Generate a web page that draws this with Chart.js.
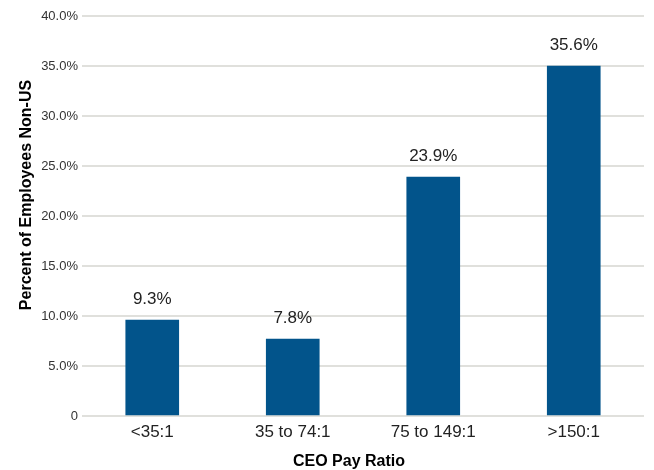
<!DOCTYPE html>
<html>
<head>
<meta charset="utf-8">
<script src="https://cdn.jsdelivr.net/npm/chart.js@4"></script>
<style>
  html, body { margin: 0; padding: 0; background: #fff; }
  #wrap { width: 654px; height: 470px; }
</style>
</head>
<body>
<div id="wrap"><canvas id="graficoRatio"></canvas></div>
<script>
// Dados
const categorias = ['<35:1', '35 to 74:1', '75 to 149:1', '>150:1'];
const alturas = [9.6, 7.7, 23.9, 35.0];
const rotulos = ['9.3%', '7.8%', '23.9%', '35.6%'];
const ticksY = [0, 5, 10, 15, 20, 25, 30, 35, 40];

const fonte = "'Liberation Sans', Arial, sans-serif";

// rótulos em cima das barras
const rotulosBarras = {
  id: 'rotulosBarras',
  afterDatasetsDraw(chart) {
    const c = chart.ctx;
    const meta = chart.getDatasetMeta(0);
    c.save();
    c.font = '17px ' + fonte;
    c.fillStyle = '#222';
    c.textAlign = 'center';
    c.textBaseline = 'alphabetic';
    meta.data.forEach((bar, i) => {
      c.fillText(rotulos[i], bar.x, bar.y - 16);
    });
    c.restore();
  }
};

// títulos dos eixos
const titulosEixos = {
  id: 'titulosEixos',
  afterDraw(chart) {
    const c = chart.ctx;
    c.save();
    c.font = 'bold 16px ' + fonte;
    c.fillStyle = '#000';
    c.textAlign = 'center';
    c.textBaseline = 'middle';
    c.fillText('CEO Pay Ratio', 349, 462);
    c.translate(27, 195);
    c.rotate(-Math.PI / 2);
    c.fillText('Percent of Employees Non-US', 0, 0);
    c.restore();
  }
};

const ctx = document.getElementById('graficoRatio').getContext('2d');
const grafico = new Chart(ctx, {
  type: 'bar',
  data: {
    labels: categorias,
    datasets: [{
      data: alturas,
      backgroundColor: '#02548b',
      barThickness: 53
    }]
  },
  options: {
    responsive: true,
    maintainAspectRatio: false,
    animation: false,
    layout: {
      padding: { top: 16, right: 10, left: 0, bottom: 0 }
    },
    scales: {
      x: {
        grid: { display: false, drawTicks: false },
        border: { display: false },
        ticks: {
          padding: 6,
          color: '#222',
          font: { family: fonte, size: 17 }
        },
        afterFit: s => { s.height = 54; }
      },
      y: {
        min: 0,
        max: 40,
        afterBuildTicks: s => { s.ticks = ticksY.map(v => ({ value: v })); },
        grid: { color: '#e0e0dc', lineWidth: 2, drawTicks: false },
        border: { display: false },
        ticks: {
          padding: 4,
          color: '#333',
          font: { family: fonte, size: 13 },
          callback: v => v === 0 ? '0' : v.toFixed(1) + '%'
        },
        afterFit: s => { s.width = 82; }
      }
    },
    plugins: {
      legend: { display: false },
      tooltip: { enabled: false }
    }
  },
  plugins: [rotulosBarras, titulosEixos]
});
</script>
</body>
</html>
